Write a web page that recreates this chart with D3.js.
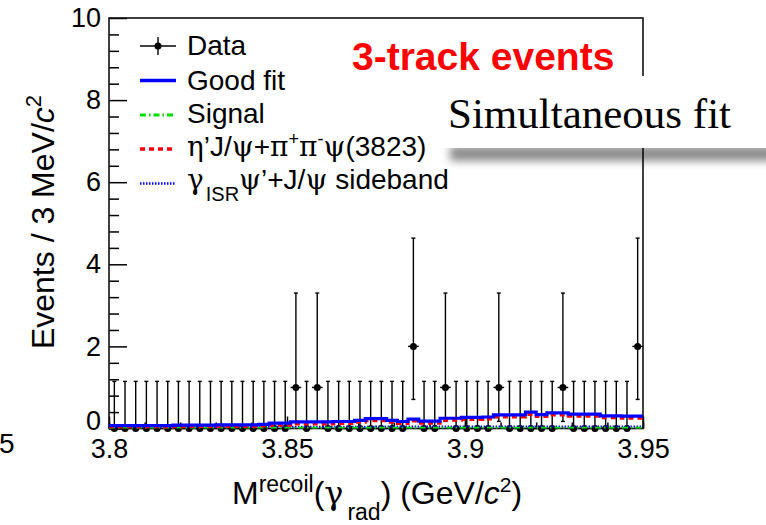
<!DOCTYPE html>
<html>
<head>
<meta charset="utf-8">
<title>3-track events</title>
<script src="https://cdn.jsdelivr.net/npm/d3@7"></script>
<style>
  body { margin: 0; background: #fff; }
  svg { display: block; font-family: "Liberation Sans", Arial, Helvetica, sans-serif; }
</style>
</head>
<body>
<svg id="chart" width="766" height="525"></svg>
<script>

    // binning: 50 bins of 3 MeV between 3.80 and 3.95 GeV
    var binLow = 3.8, binWidth = 0.003;

    // data: events per bin
    var counts = [0,0,0,0,0,0,0,0,0,0,
                  0,0,0,0,0,0,0,1,0,1,
                  0,0,0,0,0,0,0,0,2,0,
                  0,1,0,0,0,0,1,0,0,0,
                  0,0,1,0,0,0,0,0,0,2];

    // poisson error bar ends, by count (0, 1, 2)
    var errLow  = [0, 0.173, 0.708];
    var errHigh = [1.148, 3.300, 4.638];

    // fit components, per bin
    var goodFit = [0.07,0.07,0.07,0.07,0.07,0.07,0.08,0.08,0.08,0.08,
                   0.09,0.09,0.09,0.09,0.10,0.13,0.13,0.16,0.16,0.16,
                   0.16,0.17,0.17,0.20,0.24,0.24,0.20,0.17,0.23,0.18,
                   0.18,0.25,0.25,0.27,0.27,0.28,0.33,0.33,0.33,0.40,
                   0.34,0.38,0.38,0.35,0.35,0.35,0.31,0.31,0.30,0.30];

    var etaPsi = [0.03,0.03,0.03,0.03,0.03,0.03,0.04,0.04,0.04,0.04,
                  0.05,0.05,0.05,0.05,0.06,0.08,0.08,0.11,0.11,0.11,
                  0.11,0.12,0.12,0.15,0.19,0.19,0.15,0.12,0.18,0.13,
                  0.13,0.20,0.20,0.22,0.22,0.23,0.28,0.28,0.28,0.34,
                  0.29,0.33,0.33,0.30,0.30,0.30,0.26,0.26,0.25,0.25];

    var sideband = [0.04,0.04,0.04,0.04,0.04,0.04,0.04,0.04,0.04,0.04,
                    0.04,0.04,0.04,0.04,0.04,0.04,0.04,0.04,0.04,0.04,
                    0.04,0.04,0.04,0.04,0.04,0.05,0.05,0.05,0.05,0.05,
                    0.05,0.05,0.05,0.05,0.05,0.05,0.05,0.05,0.05,0.05,
                    0.05,0.05,0.05,0.05,0.05,0.05,0.05,0.05,0.05,0.05];

    var signal = [0.01,0.01,0.01,0.01,0.01,0.01,0.01,0.01,0.01,0.01,
                  0.01,0.01,0.01,0.01,0.01,0.01,0.01,0.01,0.01,0.01,
                  0.01,0.01,0.01,0.01,0.01,0.01,0.01,0.01,0.01,0.01,
                  0.01,0.01,0.01,0.01,0.01,0.01,0.01,0.01,0.01,0.01,
                  0.01,0.01,0.01,0.01,0.01,0.01,0.01,0.01,0.01,0.01];

    var xTicks = [3.8, 3.85, 3.9, 3.95];
    var yTicks = [0, 2, 4, 6, 8, 10];

    var frameL = 109, frameR = 643, frameT = 18, frameB = 428.5;

    var svg = d3.select("#chart");

    var x = d3.scaleLinear().domain([3.8, 3.95]).range([frameL, frameR]);
    var y = d3.scaleLinear().domain([0, 10]).range([frameB, frameT]);

    var defs = svg.append("defs");
    defs.append("clipPath").attr("id", "plot")
        .append("rect").attr("x", frameL).attr("y", frameT)
        .attr("width", frameR - frameL).attr("height", frameB - frameT);

    // ---- axes ----
    var yMinor = d3.range(0, 10.01, 0.4).filter(function(v) { return Math.abs(v / 2 - Math.round(v / 2)) > 0.01; });

    svg.append("g").attr("transform", "translate(" + frameL + ",0)")
        .call(d3.axisLeft(y).tickValues(yMinor).tickSizeInner(-10).tickSizeOuter(0).tickFormat(""))
        .call(function(g) { g.select(".domain").remove(); g.selectAll("line").attr("stroke", "#000").attr("stroke-width", 1.5); });

    var yAxis = svg.append("g").attr("transform", "translate(" + frameL + ",0)")
        .call(d3.axisLeft(y).tickValues(yTicks).tickSizeInner(-18).tickSizeOuter(0).tickPadding(8));
    yAxis.select(".domain").remove();
    yAxis.selectAll("line").attr("stroke", "#000").attr("stroke-width", 1.5);
    yAxis.selectAll("text").attr("font-size", 27).attr("fill", "#000")
        .attr("font-family", "'Liberation Sans', Arial, sans-serif");
    yAxis.selectAll(".tick").filter(function(d) { return d === 0; }).select("text").attr("y", -8);

    svg.append("g").attr("transform", "translate(0," + frameB + ")")
        .call(d3.axisBottom(x).tickValues(d3.range(0, 16).map(function(i) { return 3.8 + i * 0.01; }))
            .tickSizeInner(-6).tickSizeOuter(0).tickFormat(""))
        .call(function(g) { g.select(".domain").remove(); g.selectAll("line").attr("stroke", "#000").attr("stroke-width", 1.5); });

    var xAxis = svg.append("g").attr("transform", "translate(0," + frameB + ")")
        .call(d3.axisBottom(x).tickValues(xTicks).tickSizeInner(-12).tickSizeOuter(0).tickPadding(10)
            .tickFormat(d3.format("~g")));
    xAxis.select(".domain").remove();
    xAxis.selectAll("line").attr("stroke", "#000").attr("stroke-width", 1.5);
    xAxis.selectAll("text").attr("font-size", 27).attr("fill", "#000")
        .attr("font-family", "'Liberation Sans', Arial, sans-serif");

    // frame
    svg.append("rect").attr("x", frameL).attr("y", frameT)
        .attr("width", frameR - frameL).attr("height", frameB - frameT)
        .attr("fill", "none").attr("stroke", "#111").attr("stroke-width", 1.6);

    // ---- data points ----
    var points = counts.map(function(c, i) {
        return { x: binLow + (i + 0.5) * binWidth, n: c, lo: errLow[c], hi: errHigh[c] };
    });

    var pts = svg.append("g").attr("stroke", "#000").attr("stroke-width", 1.4);
    pts.selectAll(".vbar").data(points).enter().append("line")
        .attr("x1", function(d) { return x(d.x); }).attr("x2", function(d) { return x(d.x); })
        .attr("y1", function(d) { return y(d.lo); }).attr("y2", function(d) { return y(d.hi); });
    pts.selectAll(".cap").data(points).enter().append("line")
        .attr("x1", function(d) { return x(d.x) - 2; }).attr("x2", function(d) { return x(d.x) + 2; })
        .attr("y1", function(d) { return y(d.hi); }).attr("y2", function(d) { return y(d.hi); });
    pts.selectAll(".capLo").data(points.filter(function(d) { return d.n > 0; })).enter().append("line")
        .attr("x1", function(d) { return x(d.x) - 2; }).attr("x2", function(d) { return x(d.x) + 2; })
        .attr("y1", function(d) { return y(d.lo); }).attr("y2", function(d) { return y(d.lo); });
    pts.selectAll(".hbar").data(points).enter().append("line")
        .attr("x1", function(d) { return x(d.x - binWidth / 2); }).attr("x2", function(d) { return x(d.x + binWidth / 2); })
        .attr("y1", function(d) { return y(d.n); }).attr("y2", function(d) { return y(d.n); });
    pts.selectAll("circle").data(points).enter().append("circle")
        .attr("cx", function(d) { return x(d.x); }).attr("cy", function(d) { return y(d.n); })
        .attr("r", 3.5).attr("fill", "#000").attr("stroke", "none");

    // ---- fit curves ----
    function stepPoints(vals) {
        var p = [];
        vals.forEach(function(v, i) {
            p.push([binLow + i * binWidth, v]);
            p.push([binLow + (i + 1) * binWidth, v]);
        });
        return p;
    }
    var line = d3.line().x(function(d) { return x(d[0]); }).y(function(d) { return y(d[1]); });

    var curves = [
        { vals: sideband, color: "#0000ff", width: 2,   dash: "1.5,1.5" },
        { vals: signal,   color: "#00dd00", width: 2.5, dash: "6,3,1.5,3" },
        { vals: etaPsi,   color: "#ff0000", width: 3,   dash: "5,4" },
        { vals: goodFit,  color: "#0000ff", width: 3.2, dash: null }
    ];

    var cg = svg.append("g").attr("clip-path", "url(#plot)");
    curves.forEach(function(c) {
        cg.append("path").attr("d", line(stepPoints(c.vals)))
            .attr("fill", "none").attr("stroke", c.color).attr("stroke-width", c.width)
            .attr("stroke-dasharray", c.dash);
    });

    // ---- legend ----
    var legendRows = [46, 80.5, 115, 149, 183.5];
    var legendBase = [55, 90, 122.5, 156, 189];
    var lx1 = 140, lx2 = 176, tx = 187;

    svg.append("line").attr("x1", lx1).attr("x2", lx2).attr("y1", legendRows[0]).attr("y2", legendRows[0])
        .attr("stroke", "#000").attr("stroke-width", 1.4);
    svg.append("line").attr("x1", 158).attr("x2", 158).attr("y1", legendRows[0] - 9).attr("y2", legendRows[0] + 9)
        .attr("stroke", "#000").attr("stroke-width", 1.4);
    svg.append("circle").attr("cx", 158).attr("cy", legendRows[0]).attr("r", 3.5).attr("fill", "#000");

    [curves[3], curves[1], curves[2], curves[0]].forEach(function(c, k) {
        svg.append("line").attr("x1", lx1).attr("x2", lx2)
            .attr("y1", legendRows[k + 1]).attr("y2", legendRows[k + 1])
            .attr("stroke", c.color).attr("stroke-width", c.width + 0.5).attr("stroke-dasharray", c.dash);
    });

    var greek = "'DejaVu Serif', 'Liberation Serif', serif";
    var lt = svg.append("g").attr("font-size", 28).attr("fill", "#000");

    lt.append("text").attr("x", tx).attr("y", legendBase[0]).text("Data");
    lt.append("text").attr("x", tx).attr("y", legendBase[1]).text("Good fit");
    lt.append("text").attr("x", tx).attr("y", legendBase[2]).text("Signal");

    var t4 = lt.append("text").attr("x", tx).attr("y", legendBase[3]);
    t4.append("tspan").attr("font-family", greek).text("η");
    t4.append("tspan").text("’J/");
    t4.append("tspan").attr("font-family", greek).text("ψ");
    t4.append("tspan").text("+");
    t4.append("tspan").attr("font-family", greek).text("π");
    t4.append("tspan").attr("font-size", 18).attr("dy", -11).text("+");
    t4.append("tspan").attr("font-family", greek).attr("dy", 11).text("π");
    t4.append("tspan").attr("font-size", 18).attr("dy", -11).text("-");
    t4.append("tspan").attr("font-family", greek).attr("dy", 11).text("ψ");
    t4.append("tspan").text("(3823)");

    var t5 = lt.append("text").attr("x", tx).attr("y", legendBase[4]);
    t5.append("tspan").attr("font-family", greek).text("γ");
    t5.append("tspan").attr("font-size", 20).attr("dy", 12).attr("dx", 2).text("ISR");
    t5.append("tspan").attr("font-family", greek).attr("dy", -12).text("ψ");
    t5.append("tspan").text("’+J/");
    t5.append("tspan").attr("font-family", greek).text("ψ");
    t5.append("tspan").text(" sideband");

    svg.append("text").attr("x", 352).attr("y", 70)
        .attr("font-size", 39).attr("font-weight", "bold").attr("fill", "#ff0000")
        .text("3-track events");

    // ---- axis titles ----
    var yt = svg.append("text").attr("transform", "translate(54,222) rotate(-90)")
        .attr("text-anchor", "middle").attr("font-size", 32).attr("fill", "#000");
    yt.append("tspan").text("Events / 3 MeV/");
    yt.append("tspan").attr("font-style", "italic").text("c");
    yt.append("tspan").attr("font-size", 22).attr("dy", -13).text("2");

    var xt = svg.append("text").attr("x", 232).attr("y", 504).attr("font-size", 32).attr("fill", "#000");
    xt.append("tspan").text("M");
    xt.append("tspan").attr("font-size", 23).attr("dy", -12).text("recoil");
    xt.append("tspan").attr("dy", 12).text("(");
    xt.append("tspan").attr("font-family", greek).text("γ");
    xt.append("tspan").attr("font-size", 23).attr("dy", 16).attr("dx", 4).text("rad");
    xt.append("tspan").attr("dy", -16).text(") (GeV/");
    xt.append("tspan").attr("font-style", "italic").text("c");
    xt.append("tspan").attr("font-size", 21).attr("dy", -12).text("2");
    xt.append("tspan").attr("dy", 12).text(")");

    // stray label from the neighbouring panel
    svg.append("text").attr("x", -1).attr("y", 453).attr("font-size", 28).attr("fill", "#000").text("5");

    // ---- "Simultaneous fit" box with shadow ----
    var blur = defs.append("filter").attr("id", "blur")
        .attr("x", "-20%").attr("y", "-100%").attr("width", "140%").attr("height", "300%");
    blur.append("feGaussianBlur").attr("stdDeviation", 4);

    svg.append("rect").attr("x", 450).attr("y", 146).attr("width", 340).attr("height", 15)
        .attr("fill", "#000").attr("opacity", 0.45).attr("filter", "url(#blur)");
    svg.append("rect").attr("x", 436).attr("y", 76).attr("width", 330).attr("height", 72).attr("fill", "#fff");
    svg.append("text").attr("x", 448).attr("y", 128)
        .attr("font-family", "'Liberation Serif', 'Times New Roman', serif")
        .attr("font-size", 43).attr("fill", "#000").text("Simultaneous fit");

</script>
</body>
</html>
